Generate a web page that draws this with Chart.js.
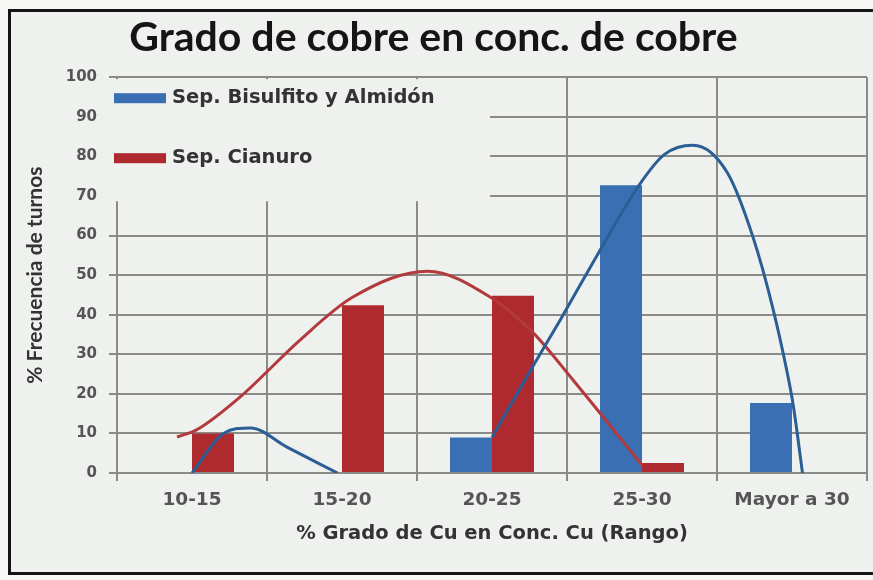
<!DOCTYPE html>
<html>
<head>
<meta charset="utf-8">
<script src="https://cdn.jsdelivr.net/npm/chart.js@4/dist/chart.umd.min.js"></script>
<style>
  body { margin: 0; background: #f7f7f5; overflow: hidden; }
  #frame {
    position: absolute; left: 8px; top: 9px;
    width: 900px; height: 560px;
    border: 3px solid #151515; background: #eef1ed;
  }
  canvas { position: absolute; left: 0; top: 0; }
</style>
</head>
<body>
<div id="frame"></div>
<canvas id="chart" width="873" height="580"></canvas>
<canvas id="curves" width="873" height="580"></canvas>
<script>
"use strict";
const categories = ["10-15", "15-20", "20-25", "25-30", "Mayor a 30"];
const bisulfito = [0, 0, 9, 72.7, 17.7];
const cianuro = [10, 42.4, 44.8, 2.5, 0];

// hand-drawn trend curves, x in category units (0 = first category)
const curveBisX = [0, 0.21, 0.39, 0.63, 0.97, 1.5, 2.0, 2.27, 2.46, 2.71, 2.98, 3.15, 3.34, 3.57, 3.74, 3.87, 3.97, 4.01, 4.07];
const curveBisY = [0, 10, 11.4, 6.6, 0, null, 9, 26.8, 39, 55.6, 72.7, 80.5, 82.8, 75.8, 59.6, 42, 25, 16.7, 0];
const curveCiaX = [-0.1, 0.03, 0.32, 0.72, 1.07, 1.57, 1.99, 2.27, 2.54, 3.0];
const curveCiaY = [9.1, 10.9, 19.2, 33.6, 44.4, 51, 44.4, 35.6, 23.5, 2];

const yTicks = [0, 10, 20, 30, 40, 50, 60, 70, 80, 90, 100];

const blue = "#3a6fb3";
const red = "#ae2a2f";
const gridColor = "#8a8b89";
const pageBg = "#eef1ed";

// plot box shared by both canvases
const plotLeft = 117, plotRightPad = 6, plotBottomPad = 107;

const toPoints = (xs, ys) => xs.map((x, i) => ({ x: x, y: ys[i] }));

// legend drawn inside the plot on a plain box, like the original
const boxLegend = {
  id: "boxLegend",
  beforeDatasetsDraw(chart) {
    const { ctx, chartArea } = chart;
    const left = chartArea.left - 12;
    const top = chartArea.top + 2;
    ctx.save();
    ctx.fillStyle = pageBg;
    ctx.fillRect(left, top, 385, 122);
    ctx.font = "bold 19.5px 'DejaVu Sans'";
    ctx.textBaseline = "middle";
    chart.data.datasets.forEach((ds, i) => {
      const y = top + 19 + i * 60;
      ctx.fillStyle = ds.backgroundColor;
      ctx.fillRect(chartArea.left - 3, y - 5, 52, 10);
      ctx.fillStyle = "#333333";
      ctx.fillText(ds.label, chartArea.left + 55, y);
    });
    ctx.restore();
  },
};

const barChart = new Chart(document.getElementById("chart"), {
  type: "bar",
  data: {
    labels: categories,
    datasets: [
      { label: "Sep. Bisulfito y Almidón", data: bisulfito, backgroundColor: blue },
      { label: "Sep. Cianuro", data: cianuro, backgroundColor: red },
    ],
  },
  options: {
    responsive: false,
    animation: false,
    categoryPercentage: 0.56,
    barPercentage: 1.0,
    layout: { padding: { left: 0, right: plotRightPad, top: 8, bottom: 0 } },
    plugins: {
      legend: { display: false },
      tooltip: { enabled: false },
      title: {
        display: true,
        text: "Grado de cobre en conc. de cobre",
        color: "#151515",
        font: { family: "Lato", weight: "bold", size: 41 },
        padding: { top: 5, bottom: 15 },
      },
    },
    scales: {
      x: {
        grid: { offset: true, color: gridColor, lineWidth: 2, tickLength: 8 },
        border: { color: gridColor, width: 2 },
        ticks: {
          color: "#555555",
          font: { family: "DejaVu Sans", weight: "bold", size: 18.5 },
          padding: 8,
          maxRotation: 0,
        },
        title: {
          display: true,
          text: "% Grado de Cu en Conc. Cu (Rango)",
          color: "#333333",
          font: { family: "DejaVu Sans", weight: "bold", size: 19.5 },
          padding: { top: 0, bottom: 34 },
        },
        afterFit: (s) => { s.height = plotBottomPad; },
      },
      y: {
        min: 0,
        max: 100,
        afterBuildTicks: (s) => { s.ticks = yTicks.map((v) => ({ value: v })); },
        grid: { color: gridColor, lineWidth: 2, tickLength: 8 },
        border: { color: gridColor, width: 2 },
        ticks: {
          color: "#555555",
          font: { family: "DejaVu Sans", weight: "bold", size: 15 },
          padding: 12,
        },
        title: {
          display: true,
          text: "% Frecuencia de turnos",
          color: "#333333",
          font: { family: "Lato", weight: "bold", size: 21 },
          padding: { top: 23, bottom: 0 },
        },
        afterFit: (s) => { s.width = plotLeft; },
      },
    },
  },
  plugins: [boxLegend],
});

// trend curves on a transparent canvas over the same plot box
const area = barChart.chartArea;
new Chart(document.getElementById("curves"), {
  type: "line",
  data: {
    datasets: [
      {
        label: "curva bisulfito",
        data: toPoints(curveBisX, curveBisY),
        borderColor: "#2b5e95",
        borderWidth: 3,
        pointRadius: 0,
        cubicInterpolationMode: "monotone",
        spanGaps: false,
      },
      {
        label: "curva cianuro",
        data: toPoints(curveCiaX, curveCiaY),
        borderColor: "#b23a3c",
        borderWidth: 3,
        pointRadius: 0,
        cubicInterpolationMode: "monotone",
      },
    ],
  },
  options: {
    responsive: false,
    animation: false,
    layout: {
      padding: { left: area.left, right: 873 - area.right, top: area.top, bottom: 580 - area.bottom },
    },
    plugins: { legend: { display: false }, tooltip: { enabled: false } },
    scales: {
      x: { type: "linear", min: -0.5, max: 4.5, display: false },
      y: { min: 0, max: 100, display: false },
    },
  },
});
</script>
</body>
</html>
